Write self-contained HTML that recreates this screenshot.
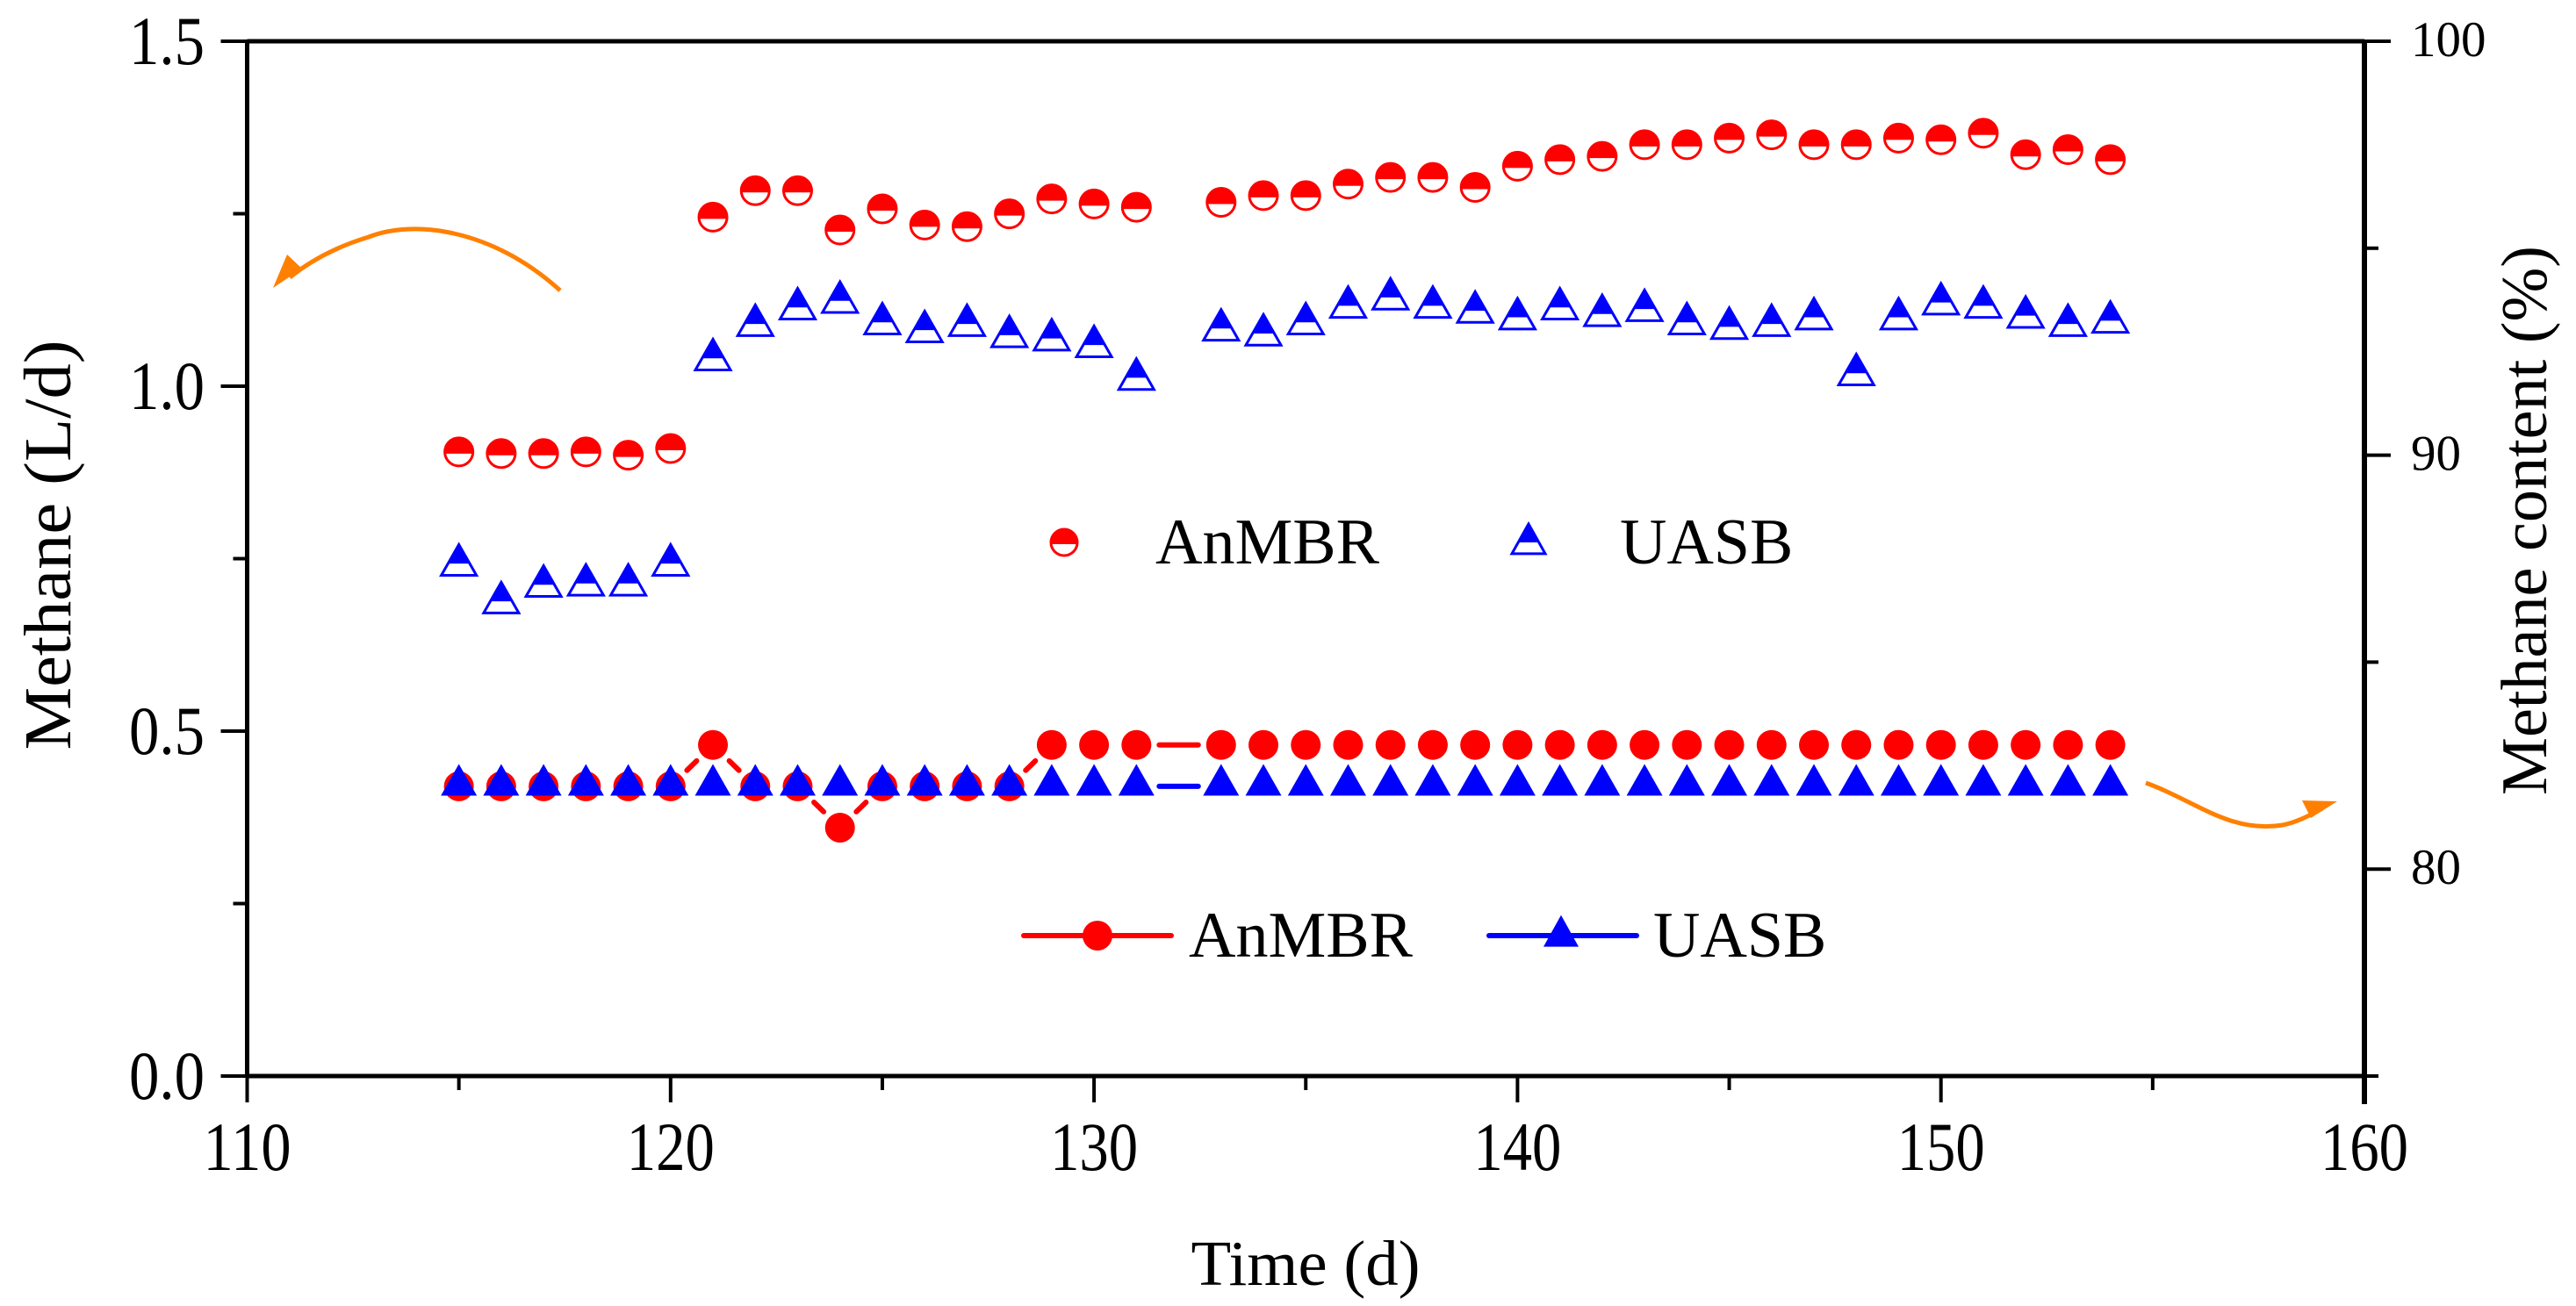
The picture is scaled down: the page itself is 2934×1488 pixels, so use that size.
<!DOCTYPE html>
<html><head><meta charset="utf-8"><style>
html,body{margin:0;padding:0;background:#fff}
svg{display:block}
text{font-family:"Liberation Serif","Times New Roman",serif;fill:#000}
</style></head><body>
<svg id="chart" width="2934" height="1488" viewBox="0 0 2934 1488">
<g id="plot"></g>
</svg>
<script>
const days = [115,116,117,118,119,120,121,122,123,124,125,126,127,128,129,130,131,133,134,135,136,137,138,139,140,141,142,143,144,145,146,147,148,149,150,151,152,153,154];
const anmbrContent = [90.08,90.04,90.04,90.08,90.0,90.16,95.75,96.39,96.39,95.44,95.95,95.56,95.52,95.83,96.19,96.07,95.99,96.11,96.27,96.27,96.55,96.71,96.71,96.47,96.98,97.14,97.22,97.5,97.5,97.66,97.74,97.5,97.5,97.66,97.62,97.78,97.26,97.38,97.14];
const uasbContent = [87.38,86.47,86.87,86.9,86.9,87.38,92.34,93.17,93.57,93.73,93.21,93.02,93.17,92.9,92.82,92.66,91.87,93.06,92.94,93.21,93.61,93.81,93.61,93.49,93.33,93.57,93.41,93.53,93.21,93.1,93.17,93.33,91.98,93.33,93.69,93.61,93.37,93.17,93.25];
const anmbrFlow = [0.42,0.42,0.42,0.42,0.42,0.42,0.48,0.42,0.42,0.36,0.42,0.42,0.42,0.42,0.48,0.48,0.48,0.48,0.48,0.48,0.48,0.48,0.48,0.48,0.48,0.48,0.48,0.48,0.48,0.48,0.48,0.48,0.48,0.48,0.48,0.48,0.48,0.48,0.48];
const uasbFlow = [0.42,0.42,0.42,0.42,0.42,0.42,0.42,0.42,0.42,0.42,0.42,0.42,0.42,0.42,0.42,0.42,0.42,0.42,0.42,0.42,0.42,0.42,0.42,0.42,0.42,0.42,0.42,0.42,0.42,0.42,0.42,0.42,0.42,0.42,0.42,0.42,0.42,0.42,0.42];
const xTicks = [110,120,130,140,150,160];
const yLeftTicks = ["0.0","0.5","1.0","1.5"];
const yRightTicks = [80,90,100];

const NS="http://www.w3.org/2000/svg";
const g=document.getElementById('plot');
const X0=281.5,X1=2693,Y0=1226,Y1=47;
const xs=v=>X0+(v-110)/50*(X1-X0);
const yl=v=>Y0-v/1.5*(Y0-Y1);
const yr=v=>Y0-(v-75)/25*(Y0-Y1);
function mk(t,a,p){const e=document.createElementNS(NS,t);for(const k in a)e.setAttribute(k,a[k]);(p||g).appendChild(e);return e;}

// axes
let ax=mk('path',{d:`M${X0} ${Y1}H${X1}M${X0} ${Y0}H${X1}M${X0} ${Y1}V${Y0}`,stroke:'#000','stroke-width':5,fill:'none'});

let rax=mk('line',{x1:X1,y1:Y1-2,x2:X1,y2:Y0+32,stroke:'#000','stroke-width':6});

// x ticks
for(let v=110;v<=160;v+=5){const major=v%10===0;let t=mk('line',{x1:xs(v),y1:Y0,x2:xs(v),y2:Y0+(major?30:16),stroke:'#000','stroke-width':4});
}
xTicks.forEach(v=>{let t=mk('text',{x:xs(v),y:1333,'font-size':78,'text-anchor':'middle',textLength:100,lengthAdjust:'spacingAndGlyphs'});t.textContent=v;
});
// left ticks
for(let i=0;i<=6;i++){const v=i*0.25;const major=i%2===0;let t=mk('line',{x1:X0-(major?30:16),y1:yl(v),x2:X0,y2:yl(v),stroke:'#000','stroke-width':4});
}
yLeftTicks.forEach(s=>{let t=mk('text',{x:233,y:yl(parseFloat(s))+26,'font-size':78,'text-anchor':'end',textLength:86,lengthAdjust:'spacingAndGlyphs'});t.textContent=s;
});
// right ticks
for(let v=75;v<=100;v+=5){const major=v%10===0;let t=mk('line',{x1:X1,y1:yr(v),x2:X1+(major?30:16),y2:yr(v),stroke:'#000','stroke-width':4});
}
yRightTicks.forEach(v=>{let t=mk('text',{x:2746,y:yr(v)+17,'font-size':57});t.textContent=v;
});
// titles
let tt=mk('text',{x:1487,y:1464,'font-size':73,'text-anchor':'middle',textLength:261,lengthAdjust:'spacingAndGlyphs'});tt.textContent='Time (d)';

let lt=mk('text',{x:0,y:0,'font-size':76,'text-anchor':'middle',transform:'translate(80,621) rotate(-90)',textLength:467,lengthAdjust:'spacingAndGlyphs'});lt.textContent='Methane (L/d)';

let rt=mk('text',{x:0,y:0,'font-size':74,'text-anchor':'middle',transform:'translate(2900,593) rotate(-90)',textLength:626,lengthAdjust:'spacingAndGlyphs'});rt.textContent='Methane content (%)';


// markers
function halfCircle(cx,cy,r,parent){const gg=mk('g',{},parent);
mk('circle',{cx,cy,r,fill:'#fff',stroke:'#f00','stroke-width':3},gg);
const h=cy+2;const dx=Math.sqrt(r*r-4);
mk('path',{d:`M${cx-dx} ${h}A${r} ${r} 0 1 1 ${cx+dx} ${h}Z`,fill:'#f00'},gg);return gg;}
function halfTri(cx,cy,w,h,parent){const gg=mk('g',{},parent);
const top=cy-h*0.62,bot=cy+h*0.38,mid=top+h*0.62;
mk('path',{d:`M${cx} ${top}L${cx+w/2} ${bot}L${cx-w/2} ${bot}Z`,fill:'#fff',stroke:'#00f','stroke-width':3,'stroke-linejoin':'miter'},gg);
const f=(mid-top)/h;mk('path',{d:`M${cx} ${top}L${cx+w/2*f} ${mid}L${cx-w/2*f} ${mid}Z`,fill:'#00f'},gg);return gg;}
function tri(cx,cy,w,h,parent){return mk('path',{d:`M${cx} ${cy-h*0.65}L${cx+w/2} ${cy+h*0.35}L${cx-w/2} ${cy+h*0.35}Z`,fill:'#00f'},parent);}
function linkSegs(xv,yv,col,name){for(let i=0;i<xv.length-1;i++){const x1=xs(xv[i]),y1=yv[i],x2=xs(xv[i+1]),y2=yv[i+1];
const L=Math.hypot(x2-x1,y2-y1),c=26;if(L<=2*c+4)continue;const ux=(x2-x1)/L,uy=(y2-y1)/L;
let s=mk('line',{x1:x1+ux*c,y1:y1+uy*c,x2:x2-ux*c,y2:y2-uy*c,stroke:col,'stroke-width':6,'stroke-linecap':'round'});
}}

linkSegs(days,anmbrFlow.map(yl),'#f00','anmbr-flow-line');
linkSegs(days,uasbFlow.map(yl),'#00f','uasb-flow-line');
days.forEach((d,i)=>{let m=mk('ellipse',{cx:xs(d),cy:yl(anmbrFlow[i]),rx:17,ry:17,fill:'#f00'});
});
days.forEach((d,i)=>{let m=tri(xs(d),yl(uasbFlow[i])-2,41,36);
});
days.forEach((d,i)=>{let m=halfCircle(xs(d),yr(anmbrContent[i]),16);
});
days.forEach((d,i)=>{let m=halfTri(xs(d),yr(uasbContent[i]),40,35);
});

// legend 1
let l1=mk('g',{});
halfCircle(1212,618,15,l1);
let a1=mk('text',{x:1316,y:642,'font-size':74},l1);a1.textContent='AnMBR';
halfTri(1741,618,38,34,l1);
let b1=mk('text',{x:1845,y:642,'font-size':74},l1);b1.textContent='UASB';
// legend 2
let l2=mk('g',{});
mk('line',{x1:1166,y1:1066,x2:1334,y2:1066,stroke:'#f00','stroke-width':6,'stroke-linecap':'round'},l2);
mk('ellipse',{cx:1250,cy:1066,rx:17,ry:17,fill:'#f00'},l2);
let a2=mk('text',{x:1354,y:1090,'font-size':74},l2);a2.textContent='AnMBR';
mk('line',{x1:1696,y1:1066,x2:1864,y2:1066,stroke:'#00f','stroke-width':6,'stroke-linecap':'round'},l2);
tri(1778,1066,40,36,l2);
let b2=mk('text',{x:1883,y:1090,'font-size':74},l2);b2.textContent='UASB';

// arrows
let ar1=mk('g',{});
mk('path',{d:'M638 331 C560 260 470 250 420 270 C380 282 350 300 330 316',stroke:'#ff8000','stroke-width':5,fill:'none'},ar1);
mk('path',{d:'M311 328 L327 290 L344 306 Z',fill:'#ff8000'},ar1);
let ar2=mk('g',{});
mk('path',{d:'M2444 892 C2500 912 2540 950 2600 940 C2620 936 2635 926 2645 921',stroke:'#ff8000','stroke-width':5,fill:'none'},ar2);
mk('path',{d:'M2662 913 L2622 912 L2632 932 Z',fill:'#ff8000'},ar2);
</script>
</body></html>
